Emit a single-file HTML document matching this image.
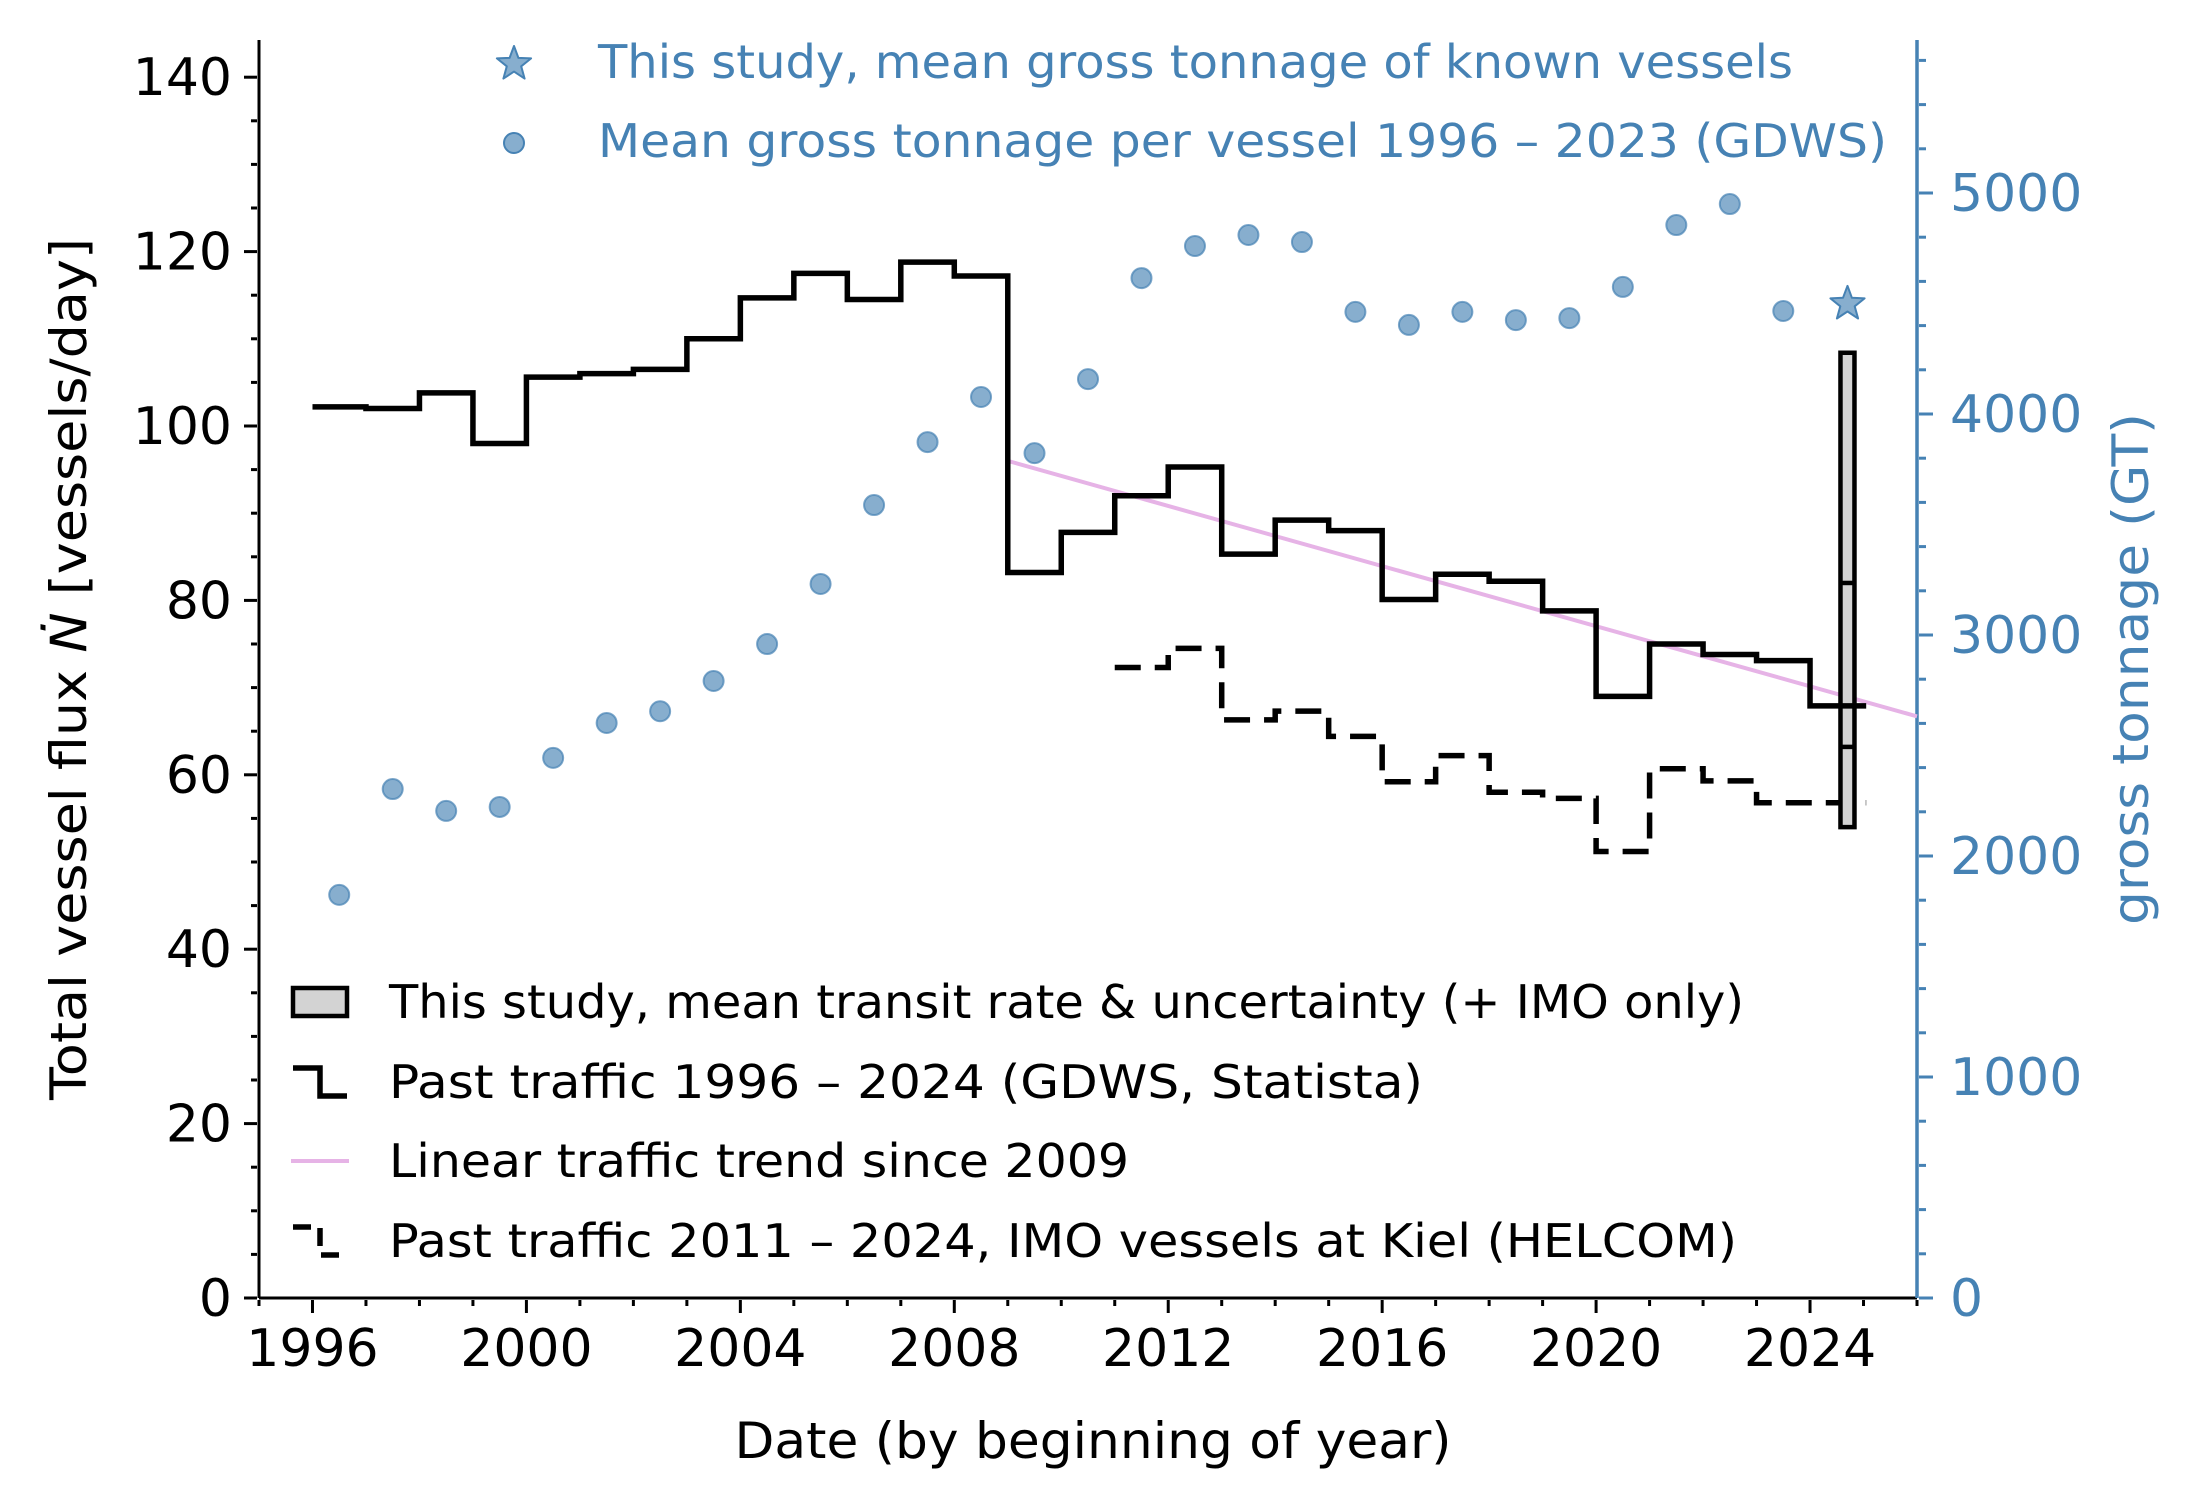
<!DOCTYPE html>
<html><head><meta charset="utf-8"><style>
html,body{margin:0;padding:0;background:#fff}
svg{display:block}
text{font-family:"DejaVu Sans","Liberation Sans",sans-serif}
</style></head><body>
<svg id="c" width="2186" height="1495" viewBox="0 0 2186 1495" xmlns="http://www.w3.org/2000/svg">
<g id="axes"></g>
<g id="marks"></g>
<g id="legend"></g>
</svg>
<script>
const flowYears=[1996,1997,1998,1999,2000,2001,2002,2003,2004,2005,2006,2007,2008,2009,2010,2011,2012,2013,2014,2015,2016,2017,2018,2019,2020,2021,2022,2023,2024];
const flowValues=[102.2,102,103.8,98,105.6,106,106.5,110,114.7,117.5,114.5,118.8,117.2,83.2,87.8,92,95.3,85.3,89.2,88,80.1,83,82.2,78.8,69,75,73.8,73.1,67.9];
const imoYears=[2011,2012,2013,2014,2015,2016,2017,2018,2019,2020,2021,2022,2023,2024];
const imoValues=[72.3,74.5,66.3,67.3,64.4,59.2,62.2,58,57.3,51.2,60.7,59.3,56.8,56.8];
const gtYears=[1996,1997,1998,1999,2000,2001,2002,2003,2004,2005,2006,2007,2008,2009,2010,2011,2012,2013,2014,2015,2016,2017,2018,2019,2020,2021,2022,2023];
const gtValues=[1824,2303,2204,2222,2444,2602,2655,2792,2959,3231,3588,3873,4077,3823,4158,4615,4760,4810,4778,4462,4403,4462,4425,4434,4575,4855,4950,4466];
const trendYears=[2009,2026];
const trendValues=[96.0,66.7];
const studyYear=[2024.7];
const studyBox=[54.0,108.4];
const studyLines=[63.2,82.0];
const studyGT=[4498];
const xTicks=[1996,2000,2004,2008,2012,2016,2020,2024];
const yTicks=[0,20,40,60,80,100,120,140];
const y2Ticks=[0,1000,2000,3000,4000,5000];

const NS="http://www.w3.org/2000/svg";
const X0=259,X1=1917,Y0=1298,YT=40;
const xs=y=>X0+(y-1995)*(X1-X0)/31;
const ys=v=>Y0-v*8.72;
const y2s=v=>Y0-v*0.221;
const BLUE="#4682b4";
function el(tag,attrs,parent){const e=document.createElementNS(NS,tag);for(const k in attrs)e.setAttribute(k,attrs[k]);parent.appendChild(e);return e;}
const axes=document.getElementById('axes'),marks=document.getElementById('marks'),leg=document.getElementById('legend');

let s=el('line',{x1:X0,y1:YT,x2:X0,y2:Y0,stroke:'#000','stroke-width':3},axes);

s=el('line',{x1:X0,y1:Y0,x2:X1,y2:Y0,stroke:'#000','stroke-width':3},axes);

s=el('line',{x1:X1,y1:YT,x2:X1,y2:Y0,stroke:BLUE,'stroke-width':3.5},axes);


for(let y=1995;y<=2026;y++){const maj=xTicks.includes(y);
 const t=el('line',{x1:xs(y),x2:xs(y),y1:Y0+2,y2:Y0+(maj?15:8),stroke:'#000','stroke-width':3},axes);
 }
xTicks.forEach(y=>{const t=el('text',{x:xs(y),y:Y0+68,'text-anchor':'middle','font-size':52},axes);t.textContent=y;
 });
for(let v=0;v<=140;v+=5){const maj=v%20===0;
 const t=el('line',{x1:X0-2,x2:X0-(maj?15:8),y1:ys(v),y2:ys(v),stroke:'#000','stroke-width':3},axes);
 }
yTicks.forEach(v=>{const t=el('text',{x:232,y:ys(v)+18,'text-anchor':'end','font-size':52},axes);t.textContent=v;
 });
for(let v=0;v<=5600;v+=200){const maj=v%1000===0;
 const t=el('line',{x1:X1+2,x2:X1+(maj?16:9),y1:y2s(v),y2:y2s(v),stroke:BLUE,'stroke-width':3},axes);
 }
y2Ticks.forEach(v=>{const t=el('text',{x:1950,y:y2s(v)+18,'text-anchor':'start','font-size':52,fill:BLUE},axes);t.textContent=v;
 });
let t=el('text',{x:1093,y:1458,'text-anchor':'middle','font-size':50,textLength:717,lengthAdjust:'spacingAndGlyphs'},axes);
t.textContent='Date (by beginning of year)';
t=el('text',{x:0,y:0,'text-anchor':'middle','font-size':50,textLength:862,lengthAdjust:'spacingAndGlyphs',transform:'translate(86,669) rotate(-90)'},axes);
t.innerHTML='Total vessel flux <tspan font-style="italic">\u1E44</tspan> [vessels/day]';
t=el('text',{x:0,y:0,'text-anchor':'middle','font-size':50,fill:BLUE,textLength:512,lengthAdjust:'spacingAndGlyphs',transform:'translate(2148,669) rotate(-90)'},axes);
t.textContent='gross tonnage (GT)';

let p=el('line',{x1:xs(trendYears[0]),y1:ys(trendValues[0]),x2:xs(trendYears[1]),y2:ys(trendValues[1]),stroke:'#e6b3e6','stroke-width':4},marks);


function stepPath(yrs,vals,end){let d='';yrs.forEach((y,i)=>{d+=(i?'L':'M')+xs(y)+' '+ys(vals[i])+' L'+xs(i<yrs.length-1?yrs[i+1]:end)+' '+ys(vals[i])+' ';});return d;}
p=el('path',{d:stepPath(imoYears,imoValues,2025.05),fill:'none',stroke:'#000','stroke-width':5.5,'stroke-dasharray':'26 14'},marks);


const bx=xs(studyYear[0]);
p=el('rect',{x:bx-7,y:ys(studyBox[1]),width:14,height:ys(studyBox[0])-ys(studyBox[1]),fill:'#d3d3d3',stroke:'#000','stroke-width':4.5},marks);

studyLines.forEach(v=>{const l=el('line',{x1:bx-7,x2:bx+7,y1:ys(v),y2:ys(v),stroke:'#000','stroke-width':4.5},marks);
 });

p=el('path',{d:stepPath(flowYears,flowValues,2025.05),fill:'none',stroke:'#000','stroke-width':5.5},marks);


gtYears.forEach((y,i)=>{const c=el('circle',{cx:xs(y+0.5),cy:y2s(gtValues[i]),r:10,fill:BLUE,'fill-opacity':0.65,stroke:BLUE,'stroke-opacity':0.7,'stroke-width':2},marks);
 });
function star(cx,cy,R,parent){let pts=[];for(let k=0;k<10;k++){const r=k%2?R*0.42:R;const a=-Math.PI/2+k*Math.PI/5;pts.push((cx+r*Math.cos(a)).toFixed(1)+','+(cy+r*Math.sin(a)).toFixed(1));}
 return el('polygon',{points:pts.join(' '),fill:BLUE,'fill-opacity':0.65,stroke:BLUE,'stroke-width':2,'stroke-linejoin':'round'},parent);}
p=star(bx,y2s(studyGT[0]),18,marks);

p=star(514,64,18,leg);
p=el('circle',{cx:514,cy:143,r:10,fill:BLUE,'fill-opacity':0.65,stroke:BLUE,'stroke-width':2},leg);

t=el('text',{x:598,y:78,'font-size':46,fill:BLUE,textLength:1195,lengthAdjust:'spacingAndGlyphs'},leg);
t.textContent='This study, mean gross tonnage of known vessels';
t=el('text',{x:598,y:157,'font-size':46,fill:BLUE,textLength:1289,lengthAdjust:'spacingAndGlyphs'},leg);
t.textContent='Mean gross tonnage per vessel 1996 \u2013 2023 (GDWS)';

const rows=[1002,1082,1161,1241];
const labels=['This study, mean transit rate & uncertainty (+ IMO only)','Past traffic 1996 \u2013 2024 (GDWS, Statista)','Linear traffic trend since 2009','Past traffic 2011 \u2013 2024, IMO vessels at Kiel (HELCOM)'];
const lens=[1355,1034,740,1348];
const names=['legend-entry-study','legend-entry-past-traffic','legend-entry-trend','legend-entry-imo'];
p=el('rect',{x:293,y:988,width:54,height:28,fill:'#d3d3d3',stroke:'#000','stroke-width':4.5},leg);

p=el('path',{d:'M293 1068 L320 1068 L320 1096 L347 1096',fill:'none',stroke:'#000','stroke-width':5.5},leg);

p=el('line',{x1:291,x2:349,y1:1161,y2:1161,stroke:'#e6b3e6','stroke-width':4},leg);

p=el('path',{d:'M293 1227 L320 1227 L320 1255 L347 1255',fill:'none',stroke:'#000','stroke-width':5.5,'stroke-dasharray':'18 10'},leg);

rows.forEach((y,i)=>{const tt=el('text',{x:389,y:y+16,'font-size':46,textLength:lens[i],lengthAdjust:'spacingAndGlyphs'},leg);
 tt.textContent=labels[i];
 
 });
</script>
</body></html>
